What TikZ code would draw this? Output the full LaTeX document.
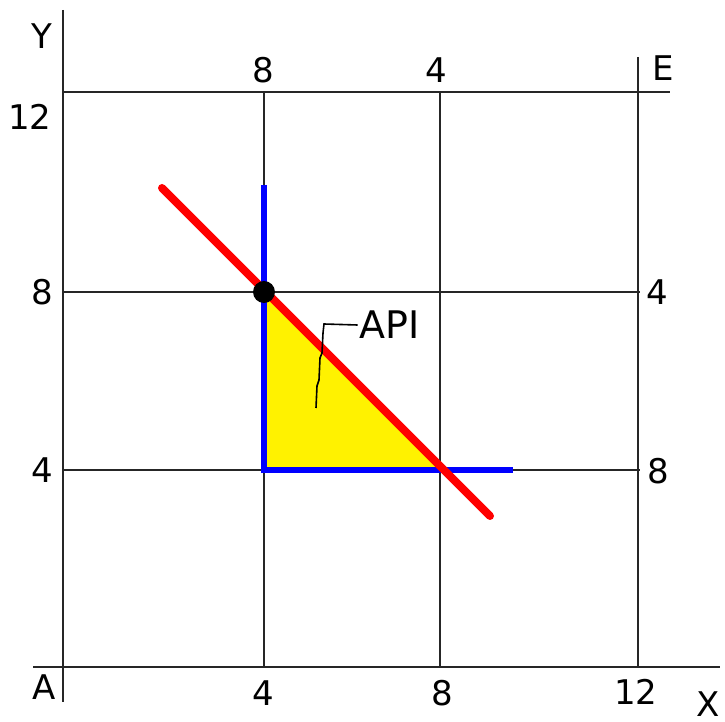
\documentclass[tikz,border=0pt]{standalone}
\usepackage{fontspec}
\setmainfont{DejaVu Sans}
\usetikzlibrary{positioning}

\tikzset{
  gridline/.style={draw=black!85, line width=1pt},
  budget/.style={draw=red, line width=4pt, line cap=round},
  endow/.style={draw=blue, line width=3pt},
  lbl/.style={font=\fontsize{17}{19}\selectfont, inner sep=0pt},
}

\begin{document}
\begin{tikzpicture}[x=0.5pt, y=-0.5pt]
    \useasboundingbox (0,0) rectangle (725,722);
    % box corners and grid points
    \coordinate (A) at (63,667);
    \coordinate (E) at (638,92);
    \coordinate (p44) at (264,470);
    \coordinate (p48) at (264,292);
    \coordinate (p84) at (440,470);
    % shaded area
    \fill[yellow] (p48) -- (p44) -- (p84) -- cycle;
    % axes of A and E
    \draw[gridline] (63,10) -- (63,702);
    \draw[gridline] (33,667) -- (720,667);
    \draw[gridline] (63,92) -- (670,92);
    \draw[gridline] (638,57) -- (638,667);
    % grid
    \draw[gridline] (264,92) -- (264,667);
    \draw[gridline] (440,92) -- (440,667);
    \draw[gridline] (63,292) -- (640,292);
    \draw[gridline] (63,470) -- (640,470);
    % blue corner
    \draw[endow] (264,185) -- (p44) -- (513,470);
    % red line
    \draw[budget] (162,188) -- (490,516);
    \fill[black] (p48) circle (11);
    % API label
    \node[lbl, font=\fontsize{19}{21}\selectfont] (api) at (390,325) {API};
    \draw[line width=0.8pt] (api.west) ++(-2,0) -- (324,324) -- (323,333) -- (322,353)
        -- (320,358) -- (319,380) -- (317,386) -- (316,408);
    % axis labels
    \node[lbl] (ylab) at (42,36) {Y};
    \node[lbl] (xlab) at (708,704) {X};
    \node[lbl] (alab) at (44,687) {A};
    \node[lbl] (elab) at (663,68) {E};
    % numbers for A
    \node[lbl] (y12) at (30,117) {12};
    \node[lbl] (y8) at (42,292) {8};
    \node[lbl] (y4) at (42,470) {4};
    \node[lbl] (x4) at (263,693) {4};
    \node[lbl] (x8) at (442,693) {8};
    \node[lbl] (x12) at (636,692) {12};
    % numbers for E
    \node[lbl] (e8) at (263,70) {8};
    \node[lbl] (e4) at (436,70) {4};
    \node[lbl] (r4) at (657,292) {4};
    \node[lbl] (r8) at (658,471) {8};
\end{tikzpicture}
\end{document}
